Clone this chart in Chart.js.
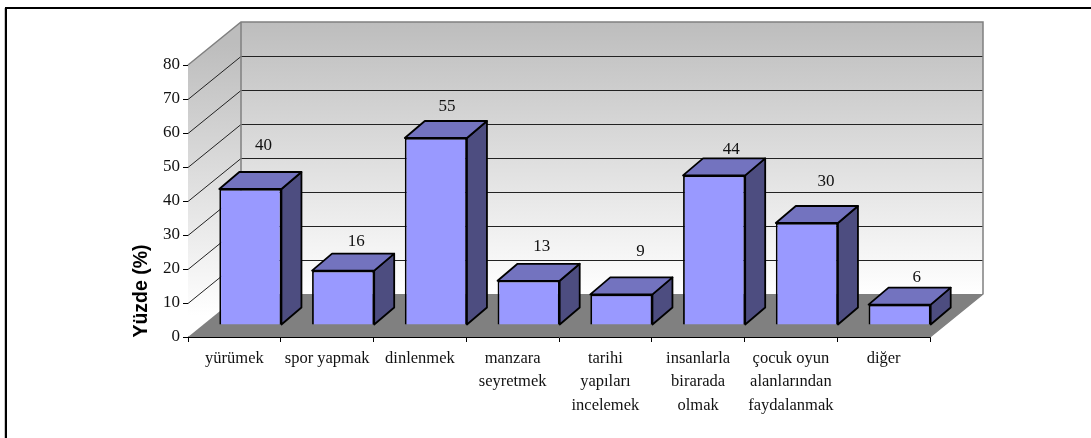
<!DOCTYPE html>
<html>
<head>
<meta charset="utf-8">
<title>Yüzde</title>
<script src="https://cdn.jsdelivr.net/npm/chart.js@4/dist/chart.umd.min.js"></script>
<style>
	html, body { margin: 0; padding: 0; background: #fff; overflow: hidden; }
	#wrap { position: relative; width: 1091px; height: 438px; }
</style>
</head>
<body>
<div id="wrap"><canvas id="chart" width="1091" height="438"></canvas></div>
<script>
const categories = [
	"yürümek",
	"spor yapmak",
	"dinlenmek",
	["manzara", "seyretmek"],
	["tarihi", "yapıları", "incelemek"],
	["insanlarla", "birarada", "olmak"],
	["çocuk oyun", "alanlarından", "faydalanmak"],
	"diğer"
];
const values = [40, 16, 55, 13, 9, 44, 30, 6];
const yTicks = [0, 10, 20, 30, 40, 50, 60, 70, 80];

// the labels were dragged by hand in the original, so each has its own offset from the bar top
const labelShift = [13, 13, 11, 13, 19, 17, 19, 17];
const labelLift = [43, 29, 31, 34, 43, 26, 41, 27];

const wallDepth = { x: 53, y: 43 };
const barInset = { x: 16, y: 12 };
const barDepth = { x: 20, y: 17 };

const polygon = (ctx, pts, fill, stroke, width) => {
	ctx.beginPath();
	pts.forEach((p, i) => i ? ctx.lineTo(p[0], p[1]) : ctx.moveTo(p[0], p[1]));
	ctx.closePath();
	if (fill) {
		ctx.fillStyle = fill;
		ctx.fill();
	}
	if (stroke) {
		ctx.strokeStyle = stroke;
		ctx.lineWidth = width;
		ctx.lineJoin = "round";
		ctx.stroke();
	}
};

// walls, floor and the depth faces of the bars
const box3d = {
	id: "box3d",
	beforeDatasetsDraw(chart) {
		const { ctx, chartArea: { left, right, top, bottom }, scales: { y } } = chart;
		const dx = wallDepth.x, dy = wallDepth.y;

		ctx.save();
		const wall = ctx.createLinearGradient(0, top - dy, 0, bottom - dy);
		wall.addColorStop(0, "#bdbdbd");
		wall.addColorStop(1, "#ffffff");
		polygon(ctx, [[left + dx, top - dy], [right + dx, top - dy], [right + dx, bottom - dy], [left + dx, bottom - dy]], wall);

		const side = ctx.createLinearGradient(0, top - dy / 2, 0, bottom - dy / 2);
		side.addColorStop(0, "#bdbdbd");
		side.addColorStop(1, "#ffffff");
		polygon(ctx, [[left, top], [left + dx, top - dy], [left + dx, bottom - dy], [left, bottom]], side);

		polygon(ctx, [[left, bottom], [right, bottom], [right + dx, bottom - dy], [left + dx, bottom - dy]], "#808080");

		ctx.strokeStyle = "#222";
		ctx.lineWidth = 1;
		ctx.beginPath();
		yTicks.slice(1, -1).forEach(v => {
			const py = Math.round(y.getPixelForValue(v));
			ctx.moveTo(left, py + 0.5);
			ctx.lineTo(left + dx, py - dy + 0.5);
			ctx.lineTo(right + dx, py - dy + 0.5);
		});
		ctx.stroke();

		ctx.strokeStyle = "#808080";
		ctx.lineWidth = 1.5;
		ctx.beginPath();
		ctx.moveTo(left, top);
		ctx.lineTo(left + dx, top - dy);
		ctx.lineTo(right + dx, top - dy);
		ctx.lineTo(right + dx, bottom - dy);
		ctx.lineTo(right, bottom);
		ctx.moveTo(left + dx, top - dy);
		ctx.lineTo(left + dx, bottom - dy);
		ctx.stroke();
		ctx.restore();
	},
	beforeDatasetDraw(chart, args) {
		const { ctx } = chart;
		ctx.save();
		ctx.translate(barInset.x, -barInset.y);
		args.meta.data.forEach(bar => {
			const l = bar.x - bar.width / 2, r = bar.x + bar.width / 2;
			const dx = barDepth.x, dy = barDepth.y;
			polygon(ctx, [[r, bar.y], [r + dx, bar.y - dy], [r + dx, bar.base - dy], [r, bar.base]], "#4d4d80", "#000", 1.8);
			polygon(ctx, [[l, bar.y], [l + dx, bar.y - dy], [r + dx, bar.y - dy], [r, bar.y]], "#7373bf", "#000", 1.8);
		});
	},
	afterDatasetDraw(chart, args) {
		const { ctx } = chart;
		ctx.restore();
		ctx.save();
		ctx.fillStyle = "#111";
		ctx.font = "17px 'Liberation Serif'";
		ctx.textAlign = "center";
		ctx.textBaseline = "middle";
		args.meta.data.forEach((bar, i) => {
			ctx.fillText(String(values[i]), bar.x + barInset.x + labelShift[i], bar.y - barInset.y - labelLift[i]);
		});
		ctx.restore();
	},
	afterDraw(chart) {
		const { ctx } = chart;
		ctx.save();
		// outer frame is only visible on the left and top, with a faint grey edge on the left
		ctx.strokeStyle = "#c8c8c8";
		ctx.lineWidth = 1;
		ctx.beginPath();
		ctx.moveTo(4.5, 438);
		ctx.lineTo(4.5, 8);
		ctx.stroke();
		ctx.strokeStyle = "#000";
		ctx.lineWidth = 2;
		ctx.beginPath();
		ctx.moveTo(6, 438);
		ctx.lineTo(6, 8);
		ctx.lineTo(1091, 8);
		ctx.stroke();

		ctx.translate(142, 291);
		ctx.rotate(-Math.PI / 2);
		ctx.fillStyle = "#000";
		ctx.font = "bold 19.5px 'Liberation Sans'";
		ctx.textAlign = "center";
		ctx.textBaseline = "middle";
		ctx.fillText("Yüzde (%)", 0, 0);
		ctx.restore();
	}
};

new Chart(document.getElementById("chart"), {
	type: "bar",
	data: {
		labels: categories,
		datasets: [{
			data: values,
			backgroundColor: "#9999ff",
			borderColor: "#000",
			borderWidth: 1.8,
			barPercentage: 0.67,
			categoryPercentage: 1
		}]
	},
	plugins: [box3d],
	options: {
		responsive: false,
		animation: false,
		layout: { padding: { left: 148, right: 161, top: 65, bottom: 0 } },
		plugins: {
			legend: { display: false },
			tooltip: { enabled: false }
		},
		scales: {
			x: {
				border: { display: true, color: "#000", width: 1 },
				grid: { drawOnChartArea: false, color: "#000", tickLength: 5 },
				ticks: {
					color: "#111",
					font: { family: "'Liberation Serif'", size: 16.5, lineHeight: 1.42 },
					maxRotation: 0,
					autoSkip: false,
					padding: 5
				},
				afterFit(scale) { scale.height = 101; }
			},
			y: {
				min: 0,
				max: 80,
				afterBuildTicks(scale) { scale.ticks = yTicks.map(v => ({ value: v })); },
				border: { display: true, color: "#000", width: 1 },
				grid: { drawOnChartArea: false, color: "#000", tickLength: 5 },
				ticks: {
					color: "#111",
					font: { family: "'Liberation Serif'", size: 17 },
					padding: 3
				},
				afterFit(scale) { scale.width = 40; }
			}
		}
	}
});
</script>
</body>
</html>
